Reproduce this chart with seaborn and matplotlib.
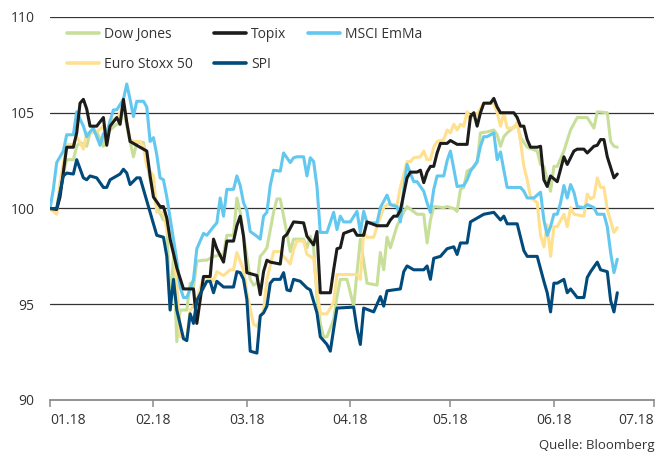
import pandas as pd
import matplotlib
matplotlib.use("Agg")
import matplotlib.pyplot as plt
import matplotlib.dates as mdates
from matplotlib.lines import Line2D
import seaborn as sns

# ---------------- data (days since 1 Jan 2018, index level) ----------------
dow_days = [0, 2, 3, 5, 7, 8, 9, 11, 12, 14, 16, 17, 18, 20, 21, 22, 23, 25, 26, 28, 29, 30, 32, 34, 35,
            36, 37, 38, 39, 41, 42, 43, 44, 46, 47, 49, 52, 53, 55, 56, 57, 58, 59, 60, 61, 62, 63, 64, 65,
            67, 68, 69, 70, 71, 72, 73, 76, 77, 78, 79, 80, 81, 82, 83, 85, 86, 87, 89, 91, 92, 93, 95, 98,
            99, 100, 101, 102, 104, 106, 107, 110, 112, 113, 114, 115, 118, 119, 121, 122, 123, 124, 125,
            127, 128, 129, 131, 133, 134, 135, 136, 137, 140, 141, 143, 146, 147, 148, 149, 150, 151, 152,
            154, 156, 158, 161, 163, 164, 167, 168, 169, 170]
dow_vals = [99.95, 99.85, 101.15, 102.55, 102.55, 103.25, 103.45, 103.25, 103.95, 104.0, 103.25, 104.0,
            104.1, 104.4, 104.4, 105.5, 104.3, 102.7, 103.45, 103.45, 102.55, 101.5, 100.1, 99.4, 99.4,
            94.7, 97.5, 93.05, 94.7, 94.7, 96.1, 95.9, 97.25, 97.3, 97.3, 97.5, 97.6, 98.6, 98.6, 100.55,
            99.8, 98.55, 97.5, 96.3, 96.0, 96.1, 97.5, 97.7, 97.95, 99.8, 100.5, 100.5, 99.6, 98.7, 97.75,
            98.4, 98.4, 97.95, 98.55, 97.95, 95.4, 94.0, 93.3, 93.3, 94.2, 95.4, 96.3, 96.3, 94.9, 96.65,
            98.4, 96.1, 96.0, 97.7, 96.8, 98.5, 97.95, 99.1, 99.8, 100.1, 99.7, 99.7, 98.2, 99.4, 100.1,
            100.05, 100.1, 100.0, 99.85, 101.0, 101.1, 101.95, 102.15, 102.4, 103.95, 104.0, 104.1, 103.85,
            103.25, 103.75, 103.95, 104.4, 103.7, 103.2, 103.0, 102.3, 102.2, 101.5, 100.9, 102.2, 102.2,
            103.0, 104.1, 104.75, 104.75, 104.2, 105.05, 105.0, 103.5, 103.25, 103.2]

euro_days = [0, 2, 3, 5, 7, 8, 9, 10, 11, 14, 16, 17, 18, 20, 21, 22, 24, 25, 27, 28, 29, 31, 32, 34, 35,
             37, 38, 39, 41, 42, 43, 44, 46, 48, 49, 50, 52, 54, 55, 56, 58, 59, 61, 62, 64, 65, 67, 69,
             70, 72, 73, 74, 76, 77, 79, 80, 81, 83, 85, 86, 92, 93, 94, 95, 97, 98, 100, 101, 104, 105,
             107, 108, 109, 111, 112, 113, 114, 115, 116, 118, 119, 120, 121, 122, 123, 124, 125, 126, 127,
             128, 130, 133, 134, 135, 136, 137, 139, 140, 141, 142, 143, 144, 146, 147, 148, 149, 150, 151,
             152, 154, 155, 156, 157, 160, 161, 162, 163, 164, 165, 166, 167, 169, 170]
euro_vals = [100.0, 99.7, 101.35, 103.35, 103.35, 103.75, 103.45, 103.1, 103.95, 104.0, 104.3, 103.7,
             104.65, 104.65, 105.0, 105.5, 103.6, 103.5, 103.5, 103.25, 102.2, 101.7, 99.8, 99.8, 98.9,
             97.7, 96.1, 93.3, 93.3, 94.7, 94.9, 95.25, 96.4, 96.4, 96.2, 96.7, 96.5, 96.8, 96.8, 97.7,
             96.8, 95.6, 93.95, 93.85, 94.7, 96.3, 97.75, 97.75, 97.5, 97.1, 97.85, 98.3, 98.3, 97.6, 97.4,
             95.8, 94.5, 94.5, 95.1, 96.55, 96.55, 96.3, 98.75, 98.5, 98.5, 99.05, 100.05, 100.2, 100.2,
             101.1, 102.45, 102.45, 102.65, 102.7, 103.0, 102.55, 102.55, 103.2, 103.5, 103.6, 104.1,
             103.95, 104.4, 104.1, 104.4, 104.3, 105.05, 104.65, 105.0, 104.9, 105.5, 105.5, 105.0, 104.3,
             105.0, 104.2, 104.2, 104.5, 103.5, 102.2, 101.5, 100.6, 100.3, 98.6, 98.0, 99.15, 97.5, 99.05,
             99.05, 99.7, 99.05, 100.05, 99.7, 99.6, 100.75, 100.5, 100.6, 101.6, 101.1, 101.1, 99.95,
             98.75, 99.0]

msci_days = [0, 1, 2, 4, 5, 7, 8, 10, 11, 12, 13, 15, 16, 17, 19, 20, 22, 23, 24, 25, 26, 28, 29, 30, 31,
             32, 33, 34, 35, 37, 38, 39, 40, 41, 42, 43, 44, 46, 47, 49, 50, 51, 52, 53, 55, 56, 57, 58,
             59, 60, 62, 63, 64, 65, 66, 67, 69, 70, 72, 73, 74, 76, 77, 78, 79, 80, 81, 83, 85, 86, 87,
             88, 90, 92, 93, 94, 95, 98, 99, 101, 102, 104, 105, 106, 107, 109, 110, 112, 113, 114, 115,
             116, 118, 119, 120, 122, 124, 125, 126, 128, 129, 130, 131, 133, 134, 135, 136, 137, 141, 142,
             143, 145, 146, 147, 148, 149, 150, 151, 152, 153, 154, 155, 156, 157, 158, 160, 161, 163, 164,
             166, 167, 168, 169, 170]
msci_vals = [100.0, 101.0, 102.4, 103.0, 103.85, 103.85, 105.05, 104.3, 103.75, 104.0, 104.2, 103.3,
             103.9, 103.95, 105.15, 105.15, 105.7, 106.5, 105.7, 104.8, 105.6, 105.6, 105.3, 103.5, 103.7,
             102.8, 101.6, 101.5, 100.6, 98.4, 97.3, 95.9, 95.35, 95.35, 95.8, 96.3, 97.9, 98.7, 98.6,
             99.05, 99.25, 100.55, 99.6, 101.0, 101.0, 101.7, 101.2, 100.3, 99.9, 98.8, 98.55, 98.4, 99.6,
             99.8, 101.2, 102.0, 101.95, 102.9, 102.4, 102.65, 102.7, 102.7, 101.7, 102.65, 102.45, 101.15,
             98.75, 98.75, 99.8, 98.9, 99.6, 99.3, 99.3, 99.85, 98.75, 99.85, 99.25, 99.25, 100.05, 100.7,
             100.2, 100.1, 99.3, 101.0, 102.3, 101.4, 101.4, 100.9, 100.3, 99.8, 101.0, 101.7, 101.7, 102.5,
             103.0, 101.15, 101.2, 101.5, 101.95, 102.45, 103.25, 103.75, 103.75, 103.95, 102.55, 102.95,
             102.0, 101.1, 101.1, 100.9, 100.55, 100.55, 100.7, 100.85, 99.4, 98.6, 99.05, 99.7, 99.7,
             100.3, 101.2, 100.55, 101.25, 100.85, 100.1, 100.05, 100.2, 100.05, 99.7, 99.7, 99.05, 97.7,
             96.65, 97.35]

topix_days = [0, 2, 3, 5, 7, 8, 9, 10, 11, 12, 14, 16, 17, 18, 20, 21, 22, 23, 24, 27, 29, 30, 31, 33, 34,
              35, 36, 38, 40, 43, 44, 46, 48, 49, 50, 52, 53, 55, 56, 57, 58, 59, 61, 62, 63, 64, 65, 66,
              69, 70, 71, 73, 76, 77, 79, 80, 81, 84, 85, 86, 87, 88, 91, 92, 94, 95, 98, 101, 102, 103,
              104, 105, 107, 108, 110, 111, 112, 113, 114, 115, 116, 117, 119, 120, 122, 125, 126, 127, 128,
              129, 130, 132, 133, 134, 135, 139, 140, 141, 142, 143, 144, 146, 147, 148, 149, 150, 152, 154,
              155, 157, 158, 160, 161, 163, 164, 165, 166, 167, 169, 170]
topix_vals = [100.0, 99.95, 100.6, 103.2, 103.2, 103.95, 105.5, 105.7, 105.2, 104.3, 104.3, 104.75, 103.3,
              104.3, 104.75, 104.4, 105.7, 104.5, 103.5, 103.2, 103.0, 101.7, 100.6, 100.1, 100.1, 99.5,
              98.4, 96.9, 95.8, 95.8, 94.0, 96.45, 96.45, 98.4, 97.9, 97.2, 98.3, 98.3, 99.1, 99.6, 98.55,
              96.65, 96.55, 96.5, 95.5, 96.7, 97.3, 97.2, 97.1, 98.5, 98.65, 99.3, 99.25, 98.55, 98.1, 98.8,
              95.6, 95.6, 96.8, 97.9, 97.95, 98.7, 98.9, 98.6, 98.6, 99.3, 99.1, 99.1, 99.4, 99.6, 99.6,
              99.9, 101.6, 101.9, 101.9, 102.0, 101.35, 101.9, 102.2, 102.2, 102.9, 103.4, 103.4, 103.55,
              103.35, 103.35, 104.8, 105.0, 104.3, 105.0, 105.5, 105.5, 105.75, 105.3, 105.0, 105.0, 104.75,
              104.3, 104.3, 103.6, 103.2, 103.2, 103.25, 101.5, 101.15, 101.7, 101.4, 102.7, 102.3, 103.0,
              103.1, 103.1, 102.9, 103.25, 103.3, 103.6, 103.6, 102.7, 101.6, 101.8]

spi_days = [0, 2, 4, 5, 7, 8, 10, 11, 12, 14, 15, 16, 17, 18, 20, 21, 22, 23, 24, 26, 27, 28, 30, 32, 33,
            34, 35, 36, 37, 38, 40, 41, 42, 43, 44, 47, 48, 49, 50, 52, 55, 56, 57, 58, 59, 60, 62, 63, 64,
            65, 66, 67, 69, 70, 71, 72, 73, 75, 77, 78, 80, 81, 82, 83, 84, 85, 86, 91, 92, 93, 94, 97, 99,
            100, 101, 105, 106, 107, 109, 112, 113, 114, 115, 117, 119, 121, 122, 123, 125, 126, 128, 130,
            133, 135, 136, 137, 140, 142, 143, 146, 148, 149, 150, 151, 152, 154, 155, 156, 158, 160, 161,
            162, 164, 165, 167, 168, 169, 170]
spi_vals = [100.0, 100.0, 101.7, 101.85, 101.8, 102.55, 101.6, 101.5, 101.7, 101.6, 101.35, 101.1, 101.1,
            101.5, 101.7, 101.8, 102.05, 101.85, 101.25, 101.6, 101.6, 101.0, 99.8, 98.6, 98.55, 98.5, 97.5,
            94.7, 96.3, 94.7, 93.2, 93.1, 94.5, 94.0, 95.2, 96.2, 96.2, 95.6, 96.2, 95.9, 95.9, 96.7, 96.65,
            96.3, 95.25, 92.55, 92.45, 94.4, 94.55, 94.9, 96.1, 96.3, 96.3, 96.65, 95.75, 95.7, 96.3, 96.2,
            95.85, 95.75, 94.55, 93.3, 93.1, 92.9, 92.55, 93.7, 94.8, 94.85, 93.7, 92.9, 94.8, 94.6, 95.4,
            94.9, 95.7, 95.8, 96.7, 97.0, 96.8, 96.8, 97.0, 96.3, 97.4, 97.5, 97.9, 98.0, 97.6, 98.2, 98.2,
            99.3, 99.5, 99.7, 99.8, 99.4, 99.6, 99.2, 99.2, 97.8, 97.5, 97.5, 96.2, 95.6, 94.6, 96.1, 96.1,
            96.3, 95.6, 95.8, 95.35, 95.35, 96.4, 96.7, 97.2, 96.8, 96.7, 95.2, 94.6, 95.6]

series = ["Dow Jones", "Euro Stoxx 50", "MSCI EmMa", "Topix", "SPI"]
legend_order = ["Dow Jones", "Euro Stoxx 50", "Topix", "SPI", "MSCI EmMa"]
y_ticks = [90, 95, 100, 105, 110]
month_ticks = ["2018-01-01", "2018-02-01", "2018-03-01", "2018-04-01",
               "2018-05-01", "2018-06-01", "2018-07-01"]
source = "Quelle: Bloomberg"

colors = {"Dow Jones": "#c8df9a", "Euro Stoxx 50": "#ffe08e", "MSCI EmMa": "#62c8f0",
          "Topix": "#1c1c1a", "SPI": "#004a7c"}

start = pd.Timestamp("2018-01-01")
frames = []
for name, d, v in [("Dow Jones", dow_days, dow_vals), ("Euro Stoxx 50", euro_days, euro_vals),
                   ("MSCI EmMa", msci_days, msci_vals), ("Topix", topix_days, topix_vals),
                   ("SPI", spi_days, spi_vals)]:
    frames.append(pd.DataFrame({"date": start + pd.to_timedelta(d, unit="D"), "value": v, "series": name}))
df = pd.concat(frames, ignore_index=True)

# ---------------- plot ----------------
sns.set_theme(style="white")
plt.rcParams["font.family"] = ["Open Sans", "DejaVu Sans"]

fig = plt.figure(figsize=(6.69, 4.55), dpi=100)
ax = fig.add_axes([50 / 669, 1 - 400 / 455, 604 / 669, 383 / 455])

for name in series:
    sns.lineplot(data=df[df["series"] == name], x="date", y="value", ax=ax,
                 color=colors[name], linewidth=2.2, legend=False, sort=True, estimator=None)

ax.set_xlim(pd.Timestamp(month_ticks[0]), pd.Timestamp(month_ticks[-1]))
ax.set_ylim(90, 110)
ax.set_yticks(y_ticks)
ax.set_xticks(pd.to_datetime(month_ticks))
ax.xaxis.set_major_formatter(mdates.DateFormatter("%m.%y"))
ax.set_xlabel("")
ax.set_ylabel("")

ax.grid(axis="y", color="#333333", linewidth=0.9)
ax.grid(axis="x", visible=False)
ax.get_ygridlines()[0].set_visible(False)
ax.set_axisbelow(True)
for s in ["left", "right", "top"]:
    ax.spines[s].set_visible(False)
ax.spines["bottom"].set_color("#8a8a8a")
ax.spines["bottom"].set_linewidth(1.3)

ax.tick_params(axis="y", length=0, pad=11, labelsize=10, labelcolor="#333333")
ax.tick_params(axis="x", bottom=True, direction="out", length=5, width=1.1, color="#8a8a8a",
               pad=4, labelsize=10, labelcolor="#333333")
xlabels = ax.get_xticklabels()
xlabels[0].set_horizontalalignment("left")
xlabels[-1].set_horizontalalignment("right")
fig.canvas.draw()
xlabels = ax.get_xticklabels()
xlabels[0].set_horizontalalignment("left")
xlabels[-1].set_horizontalalignment("right")

handles = [Line2D([0], [0], color=colors[n], linewidth=2.6) for n in legend_order]
leg = ax.legend(handles, legend_order, ncol=3, frameon=False, fontsize=10,
                loc="upper left", bbox_to_anchor=(67 / 669, 1 - 27 / 455),
                bbox_transform=fig.transFigure, borderpad=0, borderaxespad=0,
                handlelength=2.3, handletextpad=0.35, columnspacing=1.55, labelspacing=1.05)
for t in leg.get_texts():
    t.set_color("#333333")

fig.text(655 / 669, 1 - 446 / 455, source, ha="right", va="center", fontsize=9.5, color="#333333")

fig.savefig("out.png", dpi=100)
